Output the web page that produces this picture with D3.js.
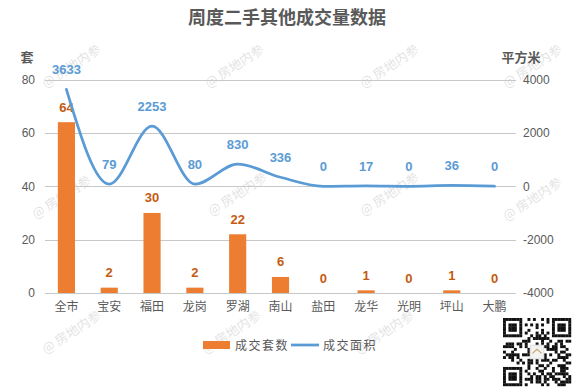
<!DOCTYPE html>
<html><head><meta charset="utf-8">
<script src="https://cdn.jsdelivr.net/npm/d3@7"></script>
<style>
body{margin:0;background:#fff;}
svg{display:block;}
text{font-family:"Liberation Sans","Noto Sans CJK SC",sans-serif;}
</style></head>
<body><svg id="c" width="573" height="388"></svg>
<script>
const categories = ["全市","宝安","福田","龙岗","罗湖","南山","盐田","龙华","光明","坪山","大鹏"];
const units = [64,2,30,2,22,6,0,1,0,1,0];
const area = [3633,79,2253,80,830,336,0,17,0,36,0];
const leftTicks = [0,20,40,60,80];
const rightTicks = [-4000,-2000,0,2000,4000];
const title = "周度二手其他成交量数据";
const seriesNames = ["成交套数","成交面积"];
const watermarkPos = [[72,67],[235,67],[390,67],[533,67],[62,198],[238,195],[390,195],[533,200],[72,333],[232,333],[385,333]];

const svg = d3.select("#c");
const cjk = '"Noto Sans CJK SC","Liberation Sans",sans-serif';
const L = 45, R = 516, T = 79.5, B = 293;
const orange = "#ED7D31", blue = "#5B9BD5", txt = "#595959";

const x = d3.scaleBand().domain(categories).range([L,R]);
const yL = d3.scaleLinear().domain([0,80]).range([B,T]);
const yR = d3.scaleLinear().domain([-4000,4000]).range([B,T]);
const bw = x.bandwidth()*0.4;

// watermarks
svg.append("g").selectAll("text").data(watermarkPos).join("text")
  .attr("transform",d=>`translate(${d[0]},${d[1]}) rotate(-33)`)
  .attr("text-anchor","middle").attr("dominant-baseline","middle")
  .style("font-family",cjk).style("font-size","13px").attr("fill","#000").attr("opacity",0.11)
  .text("@ 房地内参");

// title
svg.append("text").attr("x",287).attr("y",24).attr("text-anchor","middle")
  .style("font-family",cjk).style("font-size","18px").style("font-weight","bold").attr("fill",txt).text(title);

// gridlines
svg.append("g").selectAll("line").data(leftTicks).join("line")
  .attr("x1",L).attr("x2",R).attr("y1",d=>Math.round(yL(d))+0.5).attr("y2",d=>Math.round(yL(d))+0.5)
  .attr("stroke","#c8c8c8").attr("stroke-width",1);

// left axis
const ga = d3.axisLeft(yL).tickValues(leftTicks).tickSize(0).tickPadding(10);
const gl = svg.append("g").attr("transform",`translate(${L},0)`).call(ga);
gl.select(".domain").remove();
gl.selectAll("text").style("font-size","12px").attr("fill",txt);

const gb = d3.axisRight(yR).tickValues(rightTicks).tickSize(0).tickPadding(7).tickFormat(d=>d<0?"-"+Math.abs(d):d);
const gr = svg.append("g").attr("transform",`translate(${R},0)`).call(gb);
gr.select(".domain").remove();
gr.selectAll("text").style("font-size","12px").attr("fill",txt);

// axis titles
svg.append("text").attr("x",27).attr("y",62).attr("text-anchor","middle").style("font-family",cjk)
  .style("font-size","13px").style("font-weight","bold").attr("fill",txt).text("套");
svg.append("text").attr("x",521).attr("y",62).attr("text-anchor","middle").style("font-family",cjk)
  .style("font-size","13px").style("font-weight","bold").attr("fill",txt).text("平方米");

// x axis
const gx = svg.append("g").attr("transform",`translate(0,${B})`).call(d3.axisBottom(x).tickSize(0).tickPadding(9));
gx.select(".domain").remove();
gx.selectAll("text").style("font-family",cjk).style("font-size","12px").attr("fill",txt);

// bars
svg.append("g").selectAll("rect").data(categories).join("rect")
  .attr("x",(d)=>x(d)+x.bandwidth()/2-bw/2).attr("width",bw)
  .attr("y",(d,i)=>yL(units[i])).attr("height",(d,i)=>B-yL(units[i]))
  .attr("fill",orange);

svg.append("g").selectAll("text").data(categories).join("text")
  .attr("x",d=>x(d)+x.bandwidth()/2).attr("y",(d,i)=>yL(units[i])-10.5)
  .attr("text-anchor","middle").style("font-size","13px").style("font-weight","bold").attr("fill","#C55A11")
  .text((d,i)=>units[i]);

// line
const line = d3.line().x((d,i)=>x(categories[i])+x.bandwidth()/2).y(d=>yR(d)).curve(d3.curveMonotoneX);
svg.append("path").datum(area).attr("d",line).attr("fill","none").attr("stroke",blue)
  .attr("stroke-width",2.75).attr("stroke-linecap","round");

svg.append("g").selectAll("text").data(categories).join("text")
  .attr("x",d=>x(d)+x.bandwidth()/2).attr("y",(d,i)=>yR(area[i])-15)
  .attr("text-anchor","middle").style("font-size","13px").style("font-weight","bold").attr("fill",blue)
  .text((d,i)=>area[i]);

// legend
const lg = svg.append("g");
lg.append("rect").attr("x",203).attr("y",341).attr("width",27).attr("height",8).attr("fill",orange);
lg.append("text").attr("x",235).attr("y",349.5).style("font-family",cjk).style("font-size","12px")
  .style("letter-spacing","1.5px").attr("fill",txt).text(seriesNames[0]);
lg.append("line").attr("x1",291).attr("x2",319).attr("y1",345).attr("y2",345).attr("stroke",blue).attr("stroke-width",2.75);
lg.append("text").attr("x",323).attr("y",349.5).style("font-family",cjk).style("font-size","12px")
  .style("letter-spacing","1.5px").attr("fill",txt).text(seriesNames[1]);

// QR-code decoration
const qx = 503, qy = 318, n = 25, ms = 68/n;
const qr = svg.append("g");
qr.append("rect").attr("x",qx).attr("y",qy).attr("width",68).attr("height",68).attr("fill","#fff");
function finder(r,c){return (r<7&&c<7)||(r<7&&c>=n-7)||(r>=n-7&&c<7);}
function finderOn(r,c){
  let rr=r>=n-7?r-(n-7):r, cc=c>=n-7?c-(n-7):c;
  if(rr===0||rr===6||cc===0||cc===6) return true;
  return rr>=2&&rr<=4&&cc>=2&&cc<=4;
}
const cells=[];
for(let r=0;r<n;r++)for(let c=0;c<n;c++){
  let on;
  if(finder(r,c)) on=finderOn(r,c);
  else if((r<8&&c<8)||(r<8&&c>=n-8)||(r>=n-8&&c<8)) on=false;
  else { const h=((r*73856093)^(c*19349663)^(r*c*83492791))>>>0; on=(h%7)<3; }
  if(r>=10&&r<=14&&c>=10&&c<=14) on=false;
  if(on) cells.push([r,c]);
}
qr.selectAll("rect.m").data(cells).join("rect").attr("class","m")
  .attr("x",d=>qx+d[1]*ms).attr("y",d=>qy+d[0]*ms).attr("width",ms+0.2).attr("height",ms+0.2).attr("fill","#111");
qr.append("rect").attr("x",qx+10*ms).attr("y",qy+10*ms).attr("width",5*ms).attr("height",5*ms).attr("fill","#f2f2f2").attr("stroke","#ddd");
qr.append("path").attr("d",`M${qx+10.8*ms},${qy+13*ms} L${qx+12.5*ms},${qy+11.5*ms} L${qx+14.2*ms},${qy+13*ms}`)
  .attr("fill","none").attr("stroke","#c9a66b").attr("stroke-width",1.2);
</script></body></html>
